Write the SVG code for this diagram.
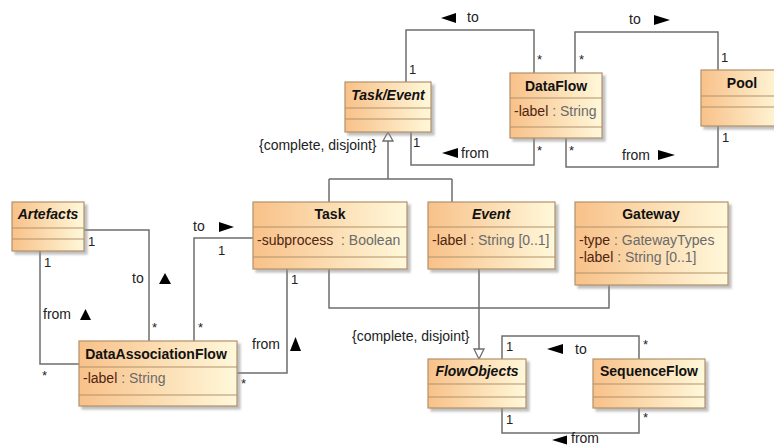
<svg xmlns="http://www.w3.org/2000/svg" width="774" height="446" viewBox="0 0 774 446">
  <style>
    text { font-family: "Liberation Sans", Arial, sans-serif; }
    .box { fill: url(#classFill); stroke: #B2916A; stroke-width: 1.2; filter: url(#shadow); }
    .div { stroke: #B2916A; stroke-width: 1.2; }
    .name { font-size: 14px; font-weight: bold; fill: #111; text-anchor: middle; }
    .abstract { font-style: italic; }
    .attr { font-size: 14px; fill: #6a6a6a; }
    .an { fill: #4f2410; }
    .line { fill: none; stroke: #6e6e6e; stroke-width: 1.5; }
    .mult { font-size: 13px; fill: #222; }
    .role { font-size: 14px; fill: #222; }
    .dir { fill: #000; }
    .gen { fill: #fff; stroke: #6e6e6e; stroke-width: 1.3; }
  </style>
  <defs>
    <linearGradient id="classFill" x1="0" y1="0" x2="1" y2="0">
      <stop offset="0" stop-color="#F8C189"/>
      <stop offset="1" stop-color="#FFF8DA"/>
    </linearGradient>
    <filter id="shadow" x="-10%" y="-10%" width="130%" height="130%">
      <feDropShadow dx="3" dy="3" stdDeviation="1.2" flood-color="#8a8a8a" flood-opacity="0.55"/>
    </filter>
  </defs>
  <rect width="774" height="446" fill="#fff"/>

  <!-- connectors -->
  <g id="connectors">
    <!-- Task/Event to DataFlow (to) -->
    <path class="line" d="M406 82 V30 H534 V73"/>
    <text class="mult" x="409" y="74">1</text>
    <text class="mult" x="537" y="64">*</text>
    <polygon class="dir" points="441,18 456,13 456,23"/>
    <text class="role" x="467" y="22">to</text>

    <!-- DataFlow to Pool (to) -->
    <path class="line" d="M575 73 V32 H718 V70"/>
    <text class="mult" x="579" y="64">*</text>
    <text class="mult" x="721" y="62">1</text>
    <text class="role" x="629" y="24">to</text>
    <polygon class="dir" points="654,15 670,20 654,25"/>

    <!-- Task/Event to DataFlow (from) -->
    <path class="line" d="M411 132 V165 H534 V138"/>
    <text class="mult" x="413" y="147">1</text>
    <text class="mult" x="537" y="155">*</text>
    <polygon class="dir" points="442,153 458,148 458,158"/>
    <text class="role" x="461" y="158">from</text>

    <!-- DataFlow to Pool (from) -->
    <path class="line" d="M566 138 V167 H718 V126"/>
    <text class="mult" x="569" y="155">*</text>
    <text class="mult" x="722" y="142">1</text>
    <text class="role" x="622" y="160">from</text>
    <polygon class="dir" points="658,150 675,155 658,160"/>

    <!-- Artefacts to DataAssociationFlow (to) -->
    <path class="line" d="M84 230 H149 V341"/>
    <text class="mult" x="88" y="246">1</text>
    <text class="mult" x="152" y="332">*</text>
    <text class="role" x="132" y="283">to</text>
    <polygon class="dir" points="159,284 165,273 171,284"/>

    <!-- Artefacts to DataAssociationFlow (from) -->
    <path class="line" d="M40 251 V364 H79"/>
    <text class="mult" x="44" y="267">1</text>
    <text class="mult" x="42" y="380">*</text>
    <text class="role" x="43" y="319">from</text>
    <polygon class="dir" points="80,320 85.5,309 91,320"/>

    <!-- Task to DataAssociationFlow (to) -->
    <path class="line" d="M253 238 H194 V341"/>
    <text class="mult" x="218" y="255">1</text>
    <text class="mult" x="198" y="332">*</text>
    <text class="role" x="193" y="231">to</text>
    <polygon class="dir" points="219,222 234,227 219,232"/>

    <!-- Task to DataAssociationFlow (from) -->
    <path class="line" d="M237 373 H287 V269"/>
    <text class="mult" x="291" y="284">1</text>
    <text class="mult" x="241" y="388">*</text>
    <text class="role" x="252" y="349">from</text>
    <polygon class="dir" points="290,351 295.5,337 301,351"/>

    <!-- generalization: Task, Event to Task/Event -->
    <path class="line" d="M388 141 V179 M329 179 H452 M329 179 V202 M452 179 V202"/>
    <polygon class="gen" points="388,132 383,141 393,141"/>
    <text class="role" x="259" y="150">{complete, disjoint}</text>

    <!-- generalization: Task, Event, Gateway to FlowObjects -->
    <path class="line" d="M479 269 V349 M329 269 V308 H609 V285"/>
    <polygon class="gen" points="479,359 474,349 484,349"/>
    <text class="role" x="352" y="341">{complete, disjoint}</text>

    <!-- FlowObjects to SequenceFlow (to) -->
    <path class="line" d="M502 359 V336 H639 V359"/>
    <text class="mult" x="506" y="351">1</text>
    <text class="mult" x="643" y="349">*</text>
    <polygon class="dir" points="547,349 563,344 563,354"/>
    <text class="role" x="575" y="354">to</text>

    <!-- FlowObjects to SequenceFlow (from) -->
    <path class="line" d="M502 408 V433 H639 V408"/>
    <text class="mult" x="506" y="424">1</text>
    <text class="mult" x="643" y="422">*</text>
    <polygon class="dir" points="552,440 567,435.5 567,444.5"/>
    <text class="role" x="571" y="443">from</text>
  </g>

  <!-- classes -->
  <g id="TaskEvent">
    <rect class="box" x="345" y="82" width="86" height="50"/>
    <line class="div" x1="345" y1="108" x2="431" y2="108"/>
    <line class="div" x1="345" y1="119" x2="431" y2="119"/>
    <text class="name abstract" x="388" y="100">Task/Event</text>
  </g>

  <g id="DataFlow">
    <rect class="box" x="510" y="73" width="92" height="65"/>
    <line class="div" x1="510" y1="98" x2="602" y2="98"/>
    <line class="div" x1="510" y1="127" x2="602" y2="127"/>
    <text class="name" x="556" y="91">DataFlow</text>
    <text class="attr" x="514" y="116"><tspan class="an">-label</tspan> : String</text>
  </g>

  <g id="Pool">
    <rect class="box" x="701" y="70" width="82" height="56"/>
    <line class="div" x1="701" y1="96" x2="783" y2="96"/>
    <line class="div" x1="701" y1="107" x2="783" y2="107"/>
    <text class="name" x="742" y="88">Pool</text>
  </g>

  <g id="Artefacts">
    <rect class="box" x="12" y="202" width="72" height="49"/>
    <line class="div" x1="12" y1="228" x2="84" y2="228"/>
    <line class="div" x1="12" y1="239" x2="84" y2="239"/>
    <text class="name abstract" x="48" y="219">Artefacts</text>
  </g>

  <g id="DataAssociationFlow">
    <rect class="box" x="79" y="341" width="158" height="65"/>
    <line class="div" x1="79" y1="367" x2="237" y2="367"/>
    <line class="div" x1="79" y1="395" x2="237" y2="395"/>
    <text class="name" x="156" y="359">DataAssociationFlow</text>
    <text class="attr" x="83" y="383"><tspan class="an">-label</tspan> : String</text>
  </g>

  <g id="Task">
    <rect class="box" x="253" y="202" width="154" height="67"/>
    <line class="div" x1="253" y1="227" x2="407" y2="227"/>
    <line class="div" x1="253" y1="257" x2="407" y2="257"/>
    <text class="name" x="330" y="219">Task</text>
    <text class="attr" x="257" y="245" xml:space="preserve"><tspan class="an">-subprocess</tspan>  : Boolean</text>
  </g>

  <g id="Event">
    <rect class="box" x="428" y="202" width="127" height="67"/>
    <line class="div" x1="428" y1="227" x2="555" y2="227"/>
    <line class="div" x1="428" y1="257" x2="555" y2="257"/>
    <text class="name abstract" x="491" y="219">Event</text>
    <text class="attr" x="432" y="245"><tspan class="an">-label</tspan> : String [0..1]</text>
  </g>

  <g id="Gateway">
    <rect class="box" x="575" y="202" width="153" height="83"/>
    <line class="div" x1="575" y1="227" x2="728" y2="227"/>
    <line class="div" x1="575" y1="273" x2="728" y2="273"/>
    <text class="name" x="651" y="219">Gateway</text>
    <text class="attr" x="579" y="245"><tspan class="an">-type</tspan> : GatewayTypes</text>
    <text class="attr" x="579" y="262"><tspan class="an">-label</tspan> : String [0..1]</text>
  </g>

  <g id="FlowObjects">
    <rect class="box" x="428" y="359" width="98" height="49"/>
    <line class="div" x1="428" y1="384" x2="526" y2="384"/>
    <line class="div" x1="428" y1="397" x2="526" y2="397"/>
    <text class="name abstract" x="477" y="376">FlowObjects</text>
  </g>

  <g id="SequenceFlow">
    <rect class="box" x="593" y="359" width="112" height="49"/>
    <line class="div" x1="593" y1="384" x2="705" y2="384"/>
    <line class="div" x1="593" y1="397" x2="705" y2="397"/>
    <text class="name" x="649" y="376">SequenceFlow</text>
  </g>
</svg>
